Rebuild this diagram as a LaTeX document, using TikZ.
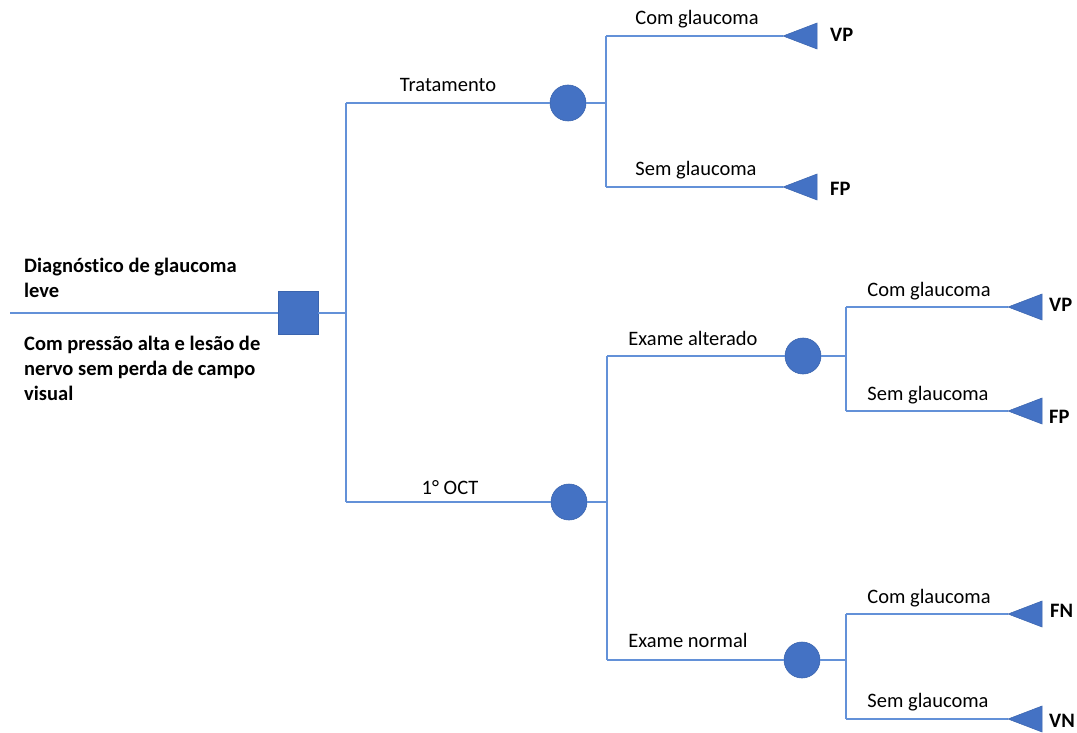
\documentclass[tikz,border=0pt]{standalone}
\usepackage{fontspec}
\setmainfont[Ligatures=NoCommon]{Carlito}
\begin{document}
\begin{tikzpicture}[x=1pt,y=-1pt,
  edge/.style={draw=lineblue,line width=1.3pt},
  chance/.style={circle,fill=nodeblue,draw=nodeedge,line width=0.6pt,minimum size=36pt,inner sep=0pt},
  decision/.style={rectangle,fill=nodeblue,draw=nodeedge,line width=0.6pt,minimum width=40pt,minimum height=43pt,inner sep=0pt},
  lbl/.style={anchor=base,inner sep=0pt,font=\fontsize{20.5}{25}\selectfont},
  outc/.style={anchor=west,inner sep=0pt,font=\fontsize{20.5}{25}\selectfont\bfseries},
  lefttext/.style={anchor=base west,inner sep=0pt,font=\fontsize{20.5}{25}\selectfont\bfseries},
  tri/.style={fill=nodeblue,draw=nodeedge,line width=0.5pt}]
\definecolor{lineblue}{HTML}{6391D8}
\definecolor{nodeblue}{HTML}{4472C4}
\definecolor{nodeedge}{HTML}{3A64AE}
\useasboundingbox (0,0) rectangle (1077,733);

% nodes
\node[decision] (D) at (298,313) {};
\node[chance] (C1) at (568,103) {};
\node[chance] (C2) at (569,502) {};
\node[chance] (C3) at (803,356) {};
\node[chance] (C4) at (802,660) {};
\coordinate (start) at (10,313);
\coordinate (J0) at (346,313);
\coordinate (J1) at (606,103);
\coordinate (J2) at (607,502);
\coordinate (J3) at (846,356);
\coordinate (J4) at (846,660);
% terminal tips
\coordinate (T1) at (783,36);
\coordinate (T2) at (783,187);
\coordinate (T3) at (1008,307);
\coordinate (T4) at (1008,411);
\coordinate (T5) at (1008,614);
\coordinate (T6) at (1008,719);

% connectors
\draw[edge] (start) -- (D.west);
\draw[edge] (D.east) -- (J0);
\draw[edge] (J0 |- C1) -- (J0 |- C2);
\draw[edge] (J0 |- C1) -- (C1.west);
\draw[edge] (J0 |- C2) -- (C2.west);
\draw[edge] (C1.east) -- (J1);
\draw[edge] (J1 |- T1) -- (J1 |- T2);
\draw[edge] (J1 |- T1) -- (T1);
\draw[edge] (J1 |- T2) -- (T2);
\draw[edge] (C2.east) -- (J2);
\draw[edge] (J2 |- C3) -- (J2 |- C4);
\draw[edge] (J2 |- C3) -- (C3.west);
\draw[edge] (J2 |- C4) -- (C4.west);
\draw[edge] (C3.east) -- (J3);
\draw[edge] (J3 |- T3) -- (J3 |- T4);
\draw[edge] (J3 |- T3) -- (T3);
\draw[edge] (J3 |- T4) -- (T4);
\draw[edge] (C4.east) -- (J4);
\draw[edge] (J4 |- T5) -- (J4 |- T6);
\draw[edge] (J4 |- T5) -- (T5);
\draw[edge] (J4 |- T6) -- (T6);

% terminal triangles
\foreach \t in {T1,T2,T3,T4,T5,T6}
  \filldraw[tri] (\t) -- ++(34,-13) -- ++(0,26) -- cycle;

% branch labels
\node[lbl] (l1) at (448,92) {Tratamento};
\node[lbl] (l2) at (450,494) {1° OCT};
\node[lbl] (l3) at (697,25) {Com glaucoma};
\node[lbl] (l4) at (696,176) {Sem glaucoma};
\node[lbl] (l5) at (693,345) {Exame alterado};
\node[lbl] (l6) at (688,647) {Exame normal};
\node[lbl] (l7) at (929,296) {Com glaucoma};
\node[lbl] (l8) at (928,400) {Sem glaucoma};
\node[lbl] (l9) at (929,603) {Com glaucoma};
\node[lbl] (l10) at (928,707) {Sem glaucoma};

% outcomes
\node[outc] (o1) at (830,35) {VP};
\node[outc] (o2) at (830,189) {FP};
\node[outc] (o3) at (1049,305) {VP};
\node[outc] (o4) at (1049,417) {FP};
\node[outc] (o5) at (1050,611) {FN};
\node[outc] (o6) at (1049,721) {VN};

% left texts
\node[lefttext] (t1) at (24,272) {Diagnós\kern0pt tico de glaucoma};
\node[lefttext] (t1b) at (24,297) {leve};
\node[lefttext] (t2) at (24,350) {Com pressão alta e lesão de};
\node[lefttext] (t2b) at (24,375) {nervo sem perda de campo};
\node[lefttext] (t2c) at (24,400) {visual};
\end{tikzpicture}
\end{document}
